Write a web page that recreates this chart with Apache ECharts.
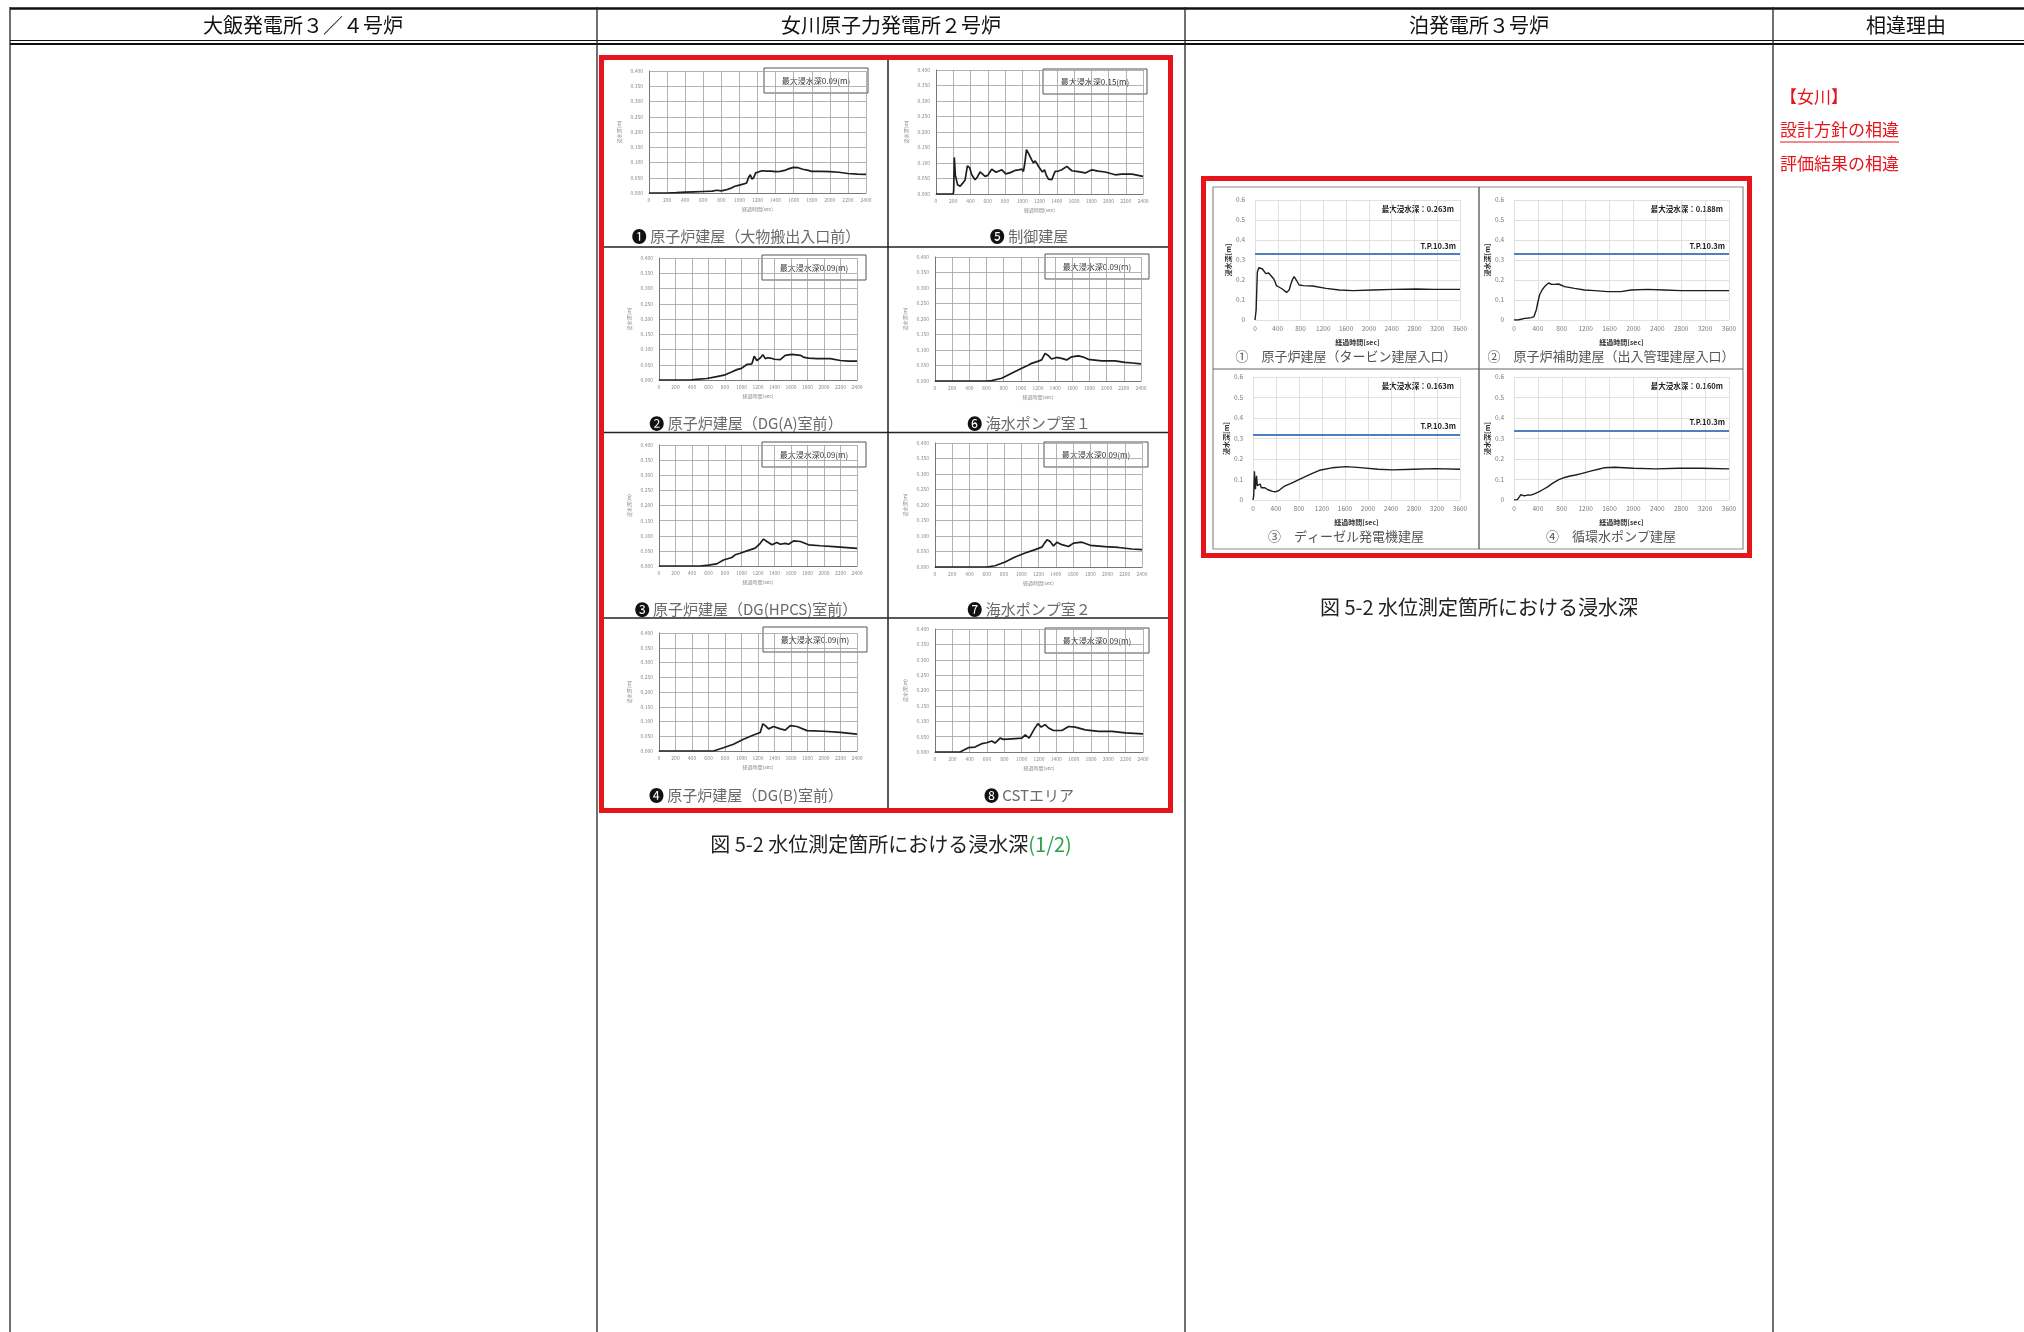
<!DOCTYPE html>
<html><head><meta charset="utf-8">
<script src="https://cdn.jsdelivr.net/npm/echarts@6/dist/echarts.min.js"></script>
<style>html,body{margin:0;padding:0;background:#fff}#c{width:2024px;height:1332px}</style>
</head><body><div id="c"></div>
<script>
// ---------------- DATA ----------------
const headerLabels = ['大飯発電所３／４号炉', '女川原子力発電所２号炉', '泊発電所３号炉', '相違理由'];

// Onagawa (女川) – time [sec], depth [m]
const ona1Time = [0,100,200,300,400,500,600,700,750,800,850,900,950,1000,1050,1080,1100,1120,1140,1160,1180,1200,1250,1300,1350,1400,1450,1500,1550,1600,1650,1700,1750,1800,1900,2000,2100,2200,2300,2400];
const ona1Depth = [0,0,0,0.001,0.003,0.004,0.005,0.006,0.009,0.007,0.010,0.015,0.022,0.026,0.030,0.033,0.050,0.060,0.045,0.052,0.066,0.071,0.073,0.072,0.072,0.070,0.071,0.074,0.080,0.084,0.083,0.078,0.075,0.071,0.071,0.070,0.068,0.064,0.062,0.061];
const ona2Time = [0,200,377,450,579,700,802,880,943,1000,1024,1065,1100,1126,1154,1186,1227,1259,1288,1320,1348,1400,1470,1530,1611,1713,1760,1814,1915,2077,2198,2300,2400];
const ona2Depth = [0,0,0,0.002,0.005,0.011,0.017,0.026,0.034,0.038,0.042,0.051,0.052,0.053,0.078,0.064,0.072,0.083,0.070,0.073,0.072,0.068,0.067,0.081,0.084,0.081,0.074,0.072,0.070,0.070,0.064,0.062,0.062];
const ona3Time = [0,250,498,600,700,781,883,923,984,1065,1166,1227,1267,1308,1369,1429,1470,1530,1571,1632,1713,1814,1956,2117,2279,2400];
const ona3Depth = [0,0,0,0.003,0.007,0.020,0.028,0.037,0.042,0.050,0.059,0.075,0.089,0.081,0.070,0.078,0.072,0.075,0.072,0.083,0.081,0.070,0.067,0.064,0.061,0.058];
const ona4Time = [0,300,660,781,903,1024,1146,1227,1259,1288,1328,1389,1470,1530,1591,1672,1794,1996,2198,2400];
const ona4Depth = [0,0,0,0.011,0.023,0.040,0.054,0.063,0.092,0.086,0.075,0.083,0.075,0.071,0.086,0.083,0.069,0.067,0.063,0.057];
const ona5Time = [0,150,200,205,212,225,250,280,310,337,364,390,414,453,480,511,540,569,600,646,697,730,763,809,860,917,960,995,1014,1030,1049,1080,1110,1130,1150,1170,1188,1234,1258,1280,1304,1342,1381,1420,1459,1517,1575,1650,1730,1808,1880,1962,2078,2150,2272,2400];
const ona5Depth = [0,0,0,0.01,0.118,0.06,0.03,0.025,0.035,0.045,0.091,0.085,0.062,0.046,0.055,0.071,0.064,0.057,0.060,0.080,0.070,0.074,0.078,0.065,0.069,0.076,0.078,0.080,0.073,0.100,0.143,0.127,0.110,0.100,0.107,0.098,0.089,0.071,0.078,0.060,0.048,0.046,0.073,0.074,0.078,0.089,0.075,0.072,0.068,0.078,0.074,0.071,0.062,0.064,0.064,0.057];
const ona6Time = [0,300,600,660,777,893,1010,1080,1126,1204,1243,1282,1320,1359,1417,1476,1534,1592,1670,1720,1786,1942,2097,2214,2300,2400];
const ona6Depth = [0,0,0,0.001,0.009,0.025,0.041,0.050,0.057,0.064,0.068,0.089,0.082,0.071,0.076,0.073,0.068,0.078,0.081,0.078,0.070,0.065,0.065,0.060,0.058,0.055];
const ona7Time = [0,300,600,697,813,929,1045,1161,1239,1270,1300,1335,1374,1413,1471,1548,1606,1703,1800,1974,2129,2284,2400];
const ona7Depth = [0,0,0,0.004,0.016,0.032,0.045,0.056,0.064,0.077,0.088,0.082,0.068,0.080,0.072,0.066,0.077,0.080,0.070,0.066,0.063,0.058,0.056];
const ona8Time = [0,200,289,385,462,539,597,655,693,751,790,886,1002,1041,1087,1148,1187,1225,1271,1310,1368,1464,1541,1618,1734,1888,2042,2196,2400];
const ona8Depth = [0,0,0,0.014,0.016,0.027,0.030,0.036,0.029,0.045,0.041,0.043,0.045,0.056,0.045,0.076,0.092,0.081,0.089,0.078,0.070,0.070,0.083,0.081,0.072,0.067,0.067,0.062,0.059];
const onaNumbers = ['❶','❷','❸','❹','❺','❻','❼','❽'];
const onaCaptions = ['原子炉建屋（大物搬出入口前）','原子炉建屋（DG(A)室前）','原子炉建屋（DG(HPCS)室前）','原子炉建屋（DG(B)室前）','制御建屋','海水ポンプ室１','海水ポンプ室２','CSTエリア'];
const onaMaxLabels = ['最大浸水深0.09(m)','最大浸水深0.09(m)','最大浸水深0.09(m)','最大浸水深0.09(m)','最大浸水深0.15(m)','最大浸水深0.09(m)','最大浸水深0.09(m)','最大浸水深0.09(m)'];

// Tomari (泊)
const tom1Time = [0,20,41,70,100,130,159,190,218,240,259,285,306,330,353,375,394,420,453,480,512,553,575,600,630,659,688,710,735,776,850,1012,1247,1482,1718,2071,2424,2835,3129,3600];
const tom1Depth = [0,0.05,0.24,0.262,0.263,0.255,0.250,0.232,0.225,0.235,0.233,0.22,0.217,0.205,0.19,0.172,0.167,0.165,0.158,0.155,0.15,0.138,0.14,0.15,0.18,0.203,0.217,0.21,0.195,0.175,0.172,0.17,0.158,0.15,0.147,0.15,0.153,0.155,0.153,0.153];
const tom2Time = [0,67,120,178,240,289,334,373,400,428,470,512,579,630,679,745,846,1013,1180,1347,1569,1791,1958,2237,2515,2793,3127,3600];
const tom2Depth = [0,0,0.004,0.008,0.01,0.012,0.017,0.05,0.09,0.125,0.15,0.167,0.185,0.178,0.178,0.18,0.167,0.158,0.15,0.147,0.142,0.142,0.15,0.153,0.15,0.147,0.147,0.147];
const tom3Time = [0,12,25,35,43,52,62,75,87,105,124,145,167,200,229,260,291,340,383,445,538,662,816,1002,1156,1373,1620,1867,2176,2424,2795,3166,3600];
const tom3Depth = [0,0.02,0.14,0.07,0.053,0.1,0.118,0.07,0.061,0.07,0.078,0.06,0.053,0.06,0.057,0.05,0.045,0.042,0.04,0.045,0.066,0.081,0.102,0.126,0.145,0.157,0.163,0.158,0.15,0.147,0.15,0.153,0.15];
const tom4Time = [0,56,90,113,150,188,235,282,340,407,480,563,650,751,850,939,1030,1127,1220,1315,1410,1503,1690,2003,2379,2754,3130,3600];
const tom4Depth = [0,0.002,0.015,0.026,0.022,0.021,0.025,0.024,0.03,0.038,0.05,0.064,0.082,0.099,0.11,0.117,0.122,0.129,0.136,0.143,0.15,0.157,0.16,0.155,0.152,0.155,0.155,0.152];
const tomNumbers = ['①','②','③','④'];
const tomCaptions = ['原子炉建屋（タービン建屋入口）','原子炉補助建屋（出入管理建屋入口）','ディーゼル発電機建屋','循環水ポンプ建屋'];
const tomMaxLabels = ['最大浸水深：0.263m','最大浸水深：0.188m','最大浸水深：0.163m','最大浸水深：0.160m'];
const tpLevels = [0.33, 0.325, 0.318, 0.335];
const tpLabel = 'T.P.10.3m';

const onaFigCaption = '図 5-2 水位測定箇所における浸水深';
const onaFigPart = '(1/2)';
const tomFigCaption = '図 5-2 水位測定箇所における浸水深';
const reasonLines = ['【女川】', '設計方針の相違', '評価結果の相違'];

// ---------------- LAYOUT ----------------
const FONT = '"Noto Sans CJK JP","Noto Sans",sans-serif';
const onaSeries = [[ona1Time,ona1Depth],[ona2Time,ona2Depth],[ona3Time,ona3Depth],[ona4Time,ona4Depth],[ona5Time,ona5Depth],[ona6Time,ona6Depth],[ona7Time,ona7Depth],[ona8Time,ona8Depth]];
const tomSeries = [[tom1Time,tom1Depth],[tom2Time,tom2Depth],[tom3Time,tom3Depth],[tom4Time,tom4Depth]];
const onaLayouts = [
 {l:649,r:866,t:71,b:193,cx:746,cy:236,bx:764,by:68},
 {l:659,r:857,t:258,b:380,cx:746,cy:423,bx:762,by:255},
 {l:659,r:857,t:445,b:566,cx:746,cy:609,bx:762,by:442},
 {l:659,r:857,t:633,b:751,cx:746,cy:795,bx:763,by:627},
 {l:936,r:1143,t:70,b:194,cx:1029,cy:236,bx:1043,by:69},
 {l:935,r:1141,t:257,b:381,cx:1029,cy:423,bx:1045,by:254},
 {l:935,r:1142,t:443,b:567,cx:1029,cy:609,bx:1044,by:442},
 {l:935,r:1143,t:629,b:752,cx:1029,cy:795,bx:1045,by:628}
];
const tomLayouts = [
 {l:1255,r:1460,t:200,b:320,cx:1346,cy:356},
 {l:1514,r:1729,t:200,b:320,cx:1611,cy:356},
 {l:1253,r:1460,t:377,b:500,cx:1346,cy:536},
 {l:1514,r:1729,t:377,b:500,cx:1611,cy:536}
];

const grids=[], xAxes=[], yAxes=[], series=[], els=[];

function line(x1,y1,x2,y2,color,w){ els.push({type:'line',silent:true,shape:{x1,y1,x2,y2},style:{stroke:color,lineWidth:w}}); }
function text(x,y,str,opts){
  els.push({type:'text',silent:true,x:x,y:y,style:Object.assign({text:str,fill:'#222',fontSize:14,fontFamily:FONT,textAlign:'center',textVerticalAlign:'middle',align:'center',verticalAlign:'middle'},opts||{})});
}

onaSeries.forEach(([time,depth],i)=>{
  const L = onaLayouts[i], gi = grids.length;
  grids.push({left:L.l, top:L.t, width:L.r-L.l, height:L.b-L.t, outerBoundsMode:'none'});
  xAxes.push({gridIndex:gi,type:'value',min:0,max:2400,interval:200,
    axisLine:{show:true,onZero:false,lineStyle:{color:'#777',width:1}},axisTick:{show:false},
    axisLabel:{fontSize:5,color:'#8a8a8a',margin:5,fontFamily:FONT,formatter:v=>String(v)},
    splitLine:{show:true,lineStyle:{color:'#a0a0a0',width:0.8}},
    name:'経過時間(sec)',nameLocation:'middle',nameGap:14,nameTextStyle:{fontSize:5,color:'#8a8a8a',fontFamily:FONT}});
  yAxes.push({gridIndex:gi,type:'value',min:0,max:0.4,interval:0.05,
    axisLine:{show:true,lineStyle:{color:'#777',width:1}},axisTick:{show:false},
    axisLabel:{fontSize:5,color:'#8a8a8a',margin:6,fontFamily:FONT,formatter:v=>v.toFixed(3)},
    splitLine:{show:true,lineStyle:{color:'#a0a0a0',width:0.8}},
    name:'浸水深(m)',nameLocation:'middle',nameRotate:90,nameGap:27,nameTextStyle:{fontSize:5,color:'#8a8a8a',fontFamily:FONT}});
  series.push({type:'line',xAxisIndex:gi,yAxisIndex:gi,data:time.map((t,k)=>[t,depth[k]]),
    showSymbol:false,symbol:'none',silent:true,lineStyle:{color:'#1e1e1e',width:1.7}});
  els.push({type:'rect',silent:true,shape:{x:L.bx,y:L.by,width:104,height:25},style:{fill:'#fff',stroke:'#555',lineWidth:1}});
  text(L.bx+52,L.by+13,onaMaxLabels[i],{fontSize:8,fill:'#333'});
  els.push({type:'text',silent:true,x:L.cx,y:L.cy,style:{text:'{n|'+onaNumbers[i]+'} {c|'+onaCaptions[i]+'}',
    textAlign:'center',textVerticalAlign:'middle',align:'center',verticalAlign:'middle',
    rich:{n:{fill:'#111',fontSize:15,fontFamily:FONT},c:{fill:'#6a6a6a',fontSize:15,fontFamily:FONT}}}});
});

tomSeries.forEach(([time,depth],i)=>{
  const L = tomLayouts[i], gi = grids.length;
  grids.push({left:L.l, top:L.t, width:L.r-L.l, height:L.b-L.t, outerBoundsMode:'none'});
  xAxes.push({gridIndex:gi,type:'value',min:0,max:3600,interval:400,
    axisLine:{show:false},axisTick:{show:false},
    axisLabel:{fontSize:6.5,color:'#7a7a7a',margin:5,fontFamily:FONT,formatter:v=>String(v)},
    splitLine:{show:true,lineStyle:{color:'#d9d9d9',width:0.8}},
    name:'経過時間[sec]',nameLocation:'middle',nameGap:19,nameTextStyle:{fontSize:7,fontWeight:'bold',color:'#333',fontFamily:FONT}});
  yAxes.push({gridIndex:gi,type:'value',min:0,max:0.6,interval:0.1,
    axisLine:{show:false},axisTick:{show:false},
    axisLabel:{fontSize:6.5,color:'#7a7a7a',margin:10,fontFamily:FONT,formatter:v=>v===0?'0':v.toFixed(1)},
    splitLine:{show:true,lineStyle:{color:'#d9d9d9',width:0.8}},
    name:'浸水深[m]',nameLocation:'middle',nameRotate:90,nameGap:20,nameTextStyle:{fontSize:7,fontWeight:'bold',color:'#333',fontFamily:FONT}});
  series.push({type:'line',xAxisIndex:gi,yAxisIndex:gi,data:time.map((t,k)=>[t,depth[k]]),
    showSymbol:false,symbol:'none',silent:true,lineStyle:{color:'#1e1e1e',width:1.4},
    markLine:{silent:true,symbol:'none',animation:false,
      lineStyle:{color:'#4f7fc0',width:2,type:'solid'},
      label:{show:true,position:'insideEndTop',formatter:tpLabel,fontSize:7.5,fontWeight:'bold',color:'#222',fontFamily:FONT,distance:4},
      data:[{yAxis:tpLevels[i]}]}});
  text(L.r-6,L.t+9,tomMaxLabels[i],{fontSize:7.5,fontWeight:'bold',fill:'#222',textAlign:'right',align:'right'});
  text(L.cx,L.cy,tomNumbers[i]+'　'+tomCaptions[i],{fontSize:13,fill:'#555'});
});

// ---------- table ----------
line(10,8.5,2024,8.5,'#111',2.5);
line(10,40.5,2024,40.5,'#111',1.2);
line(10,44,2024,44,'#111',2.2);
[10,597,1185,1773].forEach(x=>line(x,7,x,1332,'#222',1.3));
const hx=[303,891,1479,1906];
headerLabels.forEach((h,i)=>text(hx[i],25,h,{fontSize:20,fontWeight:'normal',fill:'#111'}));

// Onagawa frame
els.push({type:'rect',silent:true,shape:{x:601.5,y:57.5,width:569,height:753},style:{fill:'none',stroke:'#e8141b',lineWidth:5}});
line(888,60,888,808,'#222',1.5);
[247,432.5,618].forEach(y=>line(604,y,1168,y,'#222',1.5));
els.push({type:'text',silent:true,x:891,y:844,style:{text:'{a|'+onaFigCaption+'}{g|'+onaFigPart+'}',
  textAlign:'center',textVerticalAlign:'middle',align:'center',verticalAlign:'middle',
  rich:{a:{fill:'#222',fontSize:20,fontFamily:FONT},g:{fill:'#2aa14a',fontSize:20,fontFamily:FONT}}}});

// Tomari frame
els.push({type:'rect',silent:true,shape:{x:1203.5,y:178.5,width:546,height:377},style:{fill:'none',stroke:'#e8141b',lineWidth:5}});
els.push({type:'rect',silent:true,shape:{x:1213,y:187,width:530,height:362},style:{fill:'none',stroke:'#8a8a8a',lineWidth:1.2}});
line(1479,187,1479,549,'#444',1.2);
line(1213,369,1743,369,'#666',1.2);
text(1479,607,tomFigCaption,{fontSize:20,fill:'#222'});

// reasons
text(1780,97,reasonLines[0],{fontSize:17,fill:'#e8141b',textAlign:'left',align:'left'});
text(1780,130,reasonLines[1],{fontSize:17,fill:'#e8141b',textAlign:'left',align:'left'});
line(1780,142,1899,142,'#e8141b',1.2);
text(1780,164,reasonLines[2],{fontSize:17,fill:'#e8141b',textAlign:'left',align:'left'});

const chart = echarts.init(document.getElementById('c'),null,{renderer:'canvas',width:2024,height:1332});
chart.setOption({
  animation:false,
  backgroundColor:'#fff',
  textStyle:{fontFamily:FONT},
  grid:grids, xAxis:xAxes, yAxis:yAxes, series:series,
  graphic:{elements:els}
});
</script></body></html>
